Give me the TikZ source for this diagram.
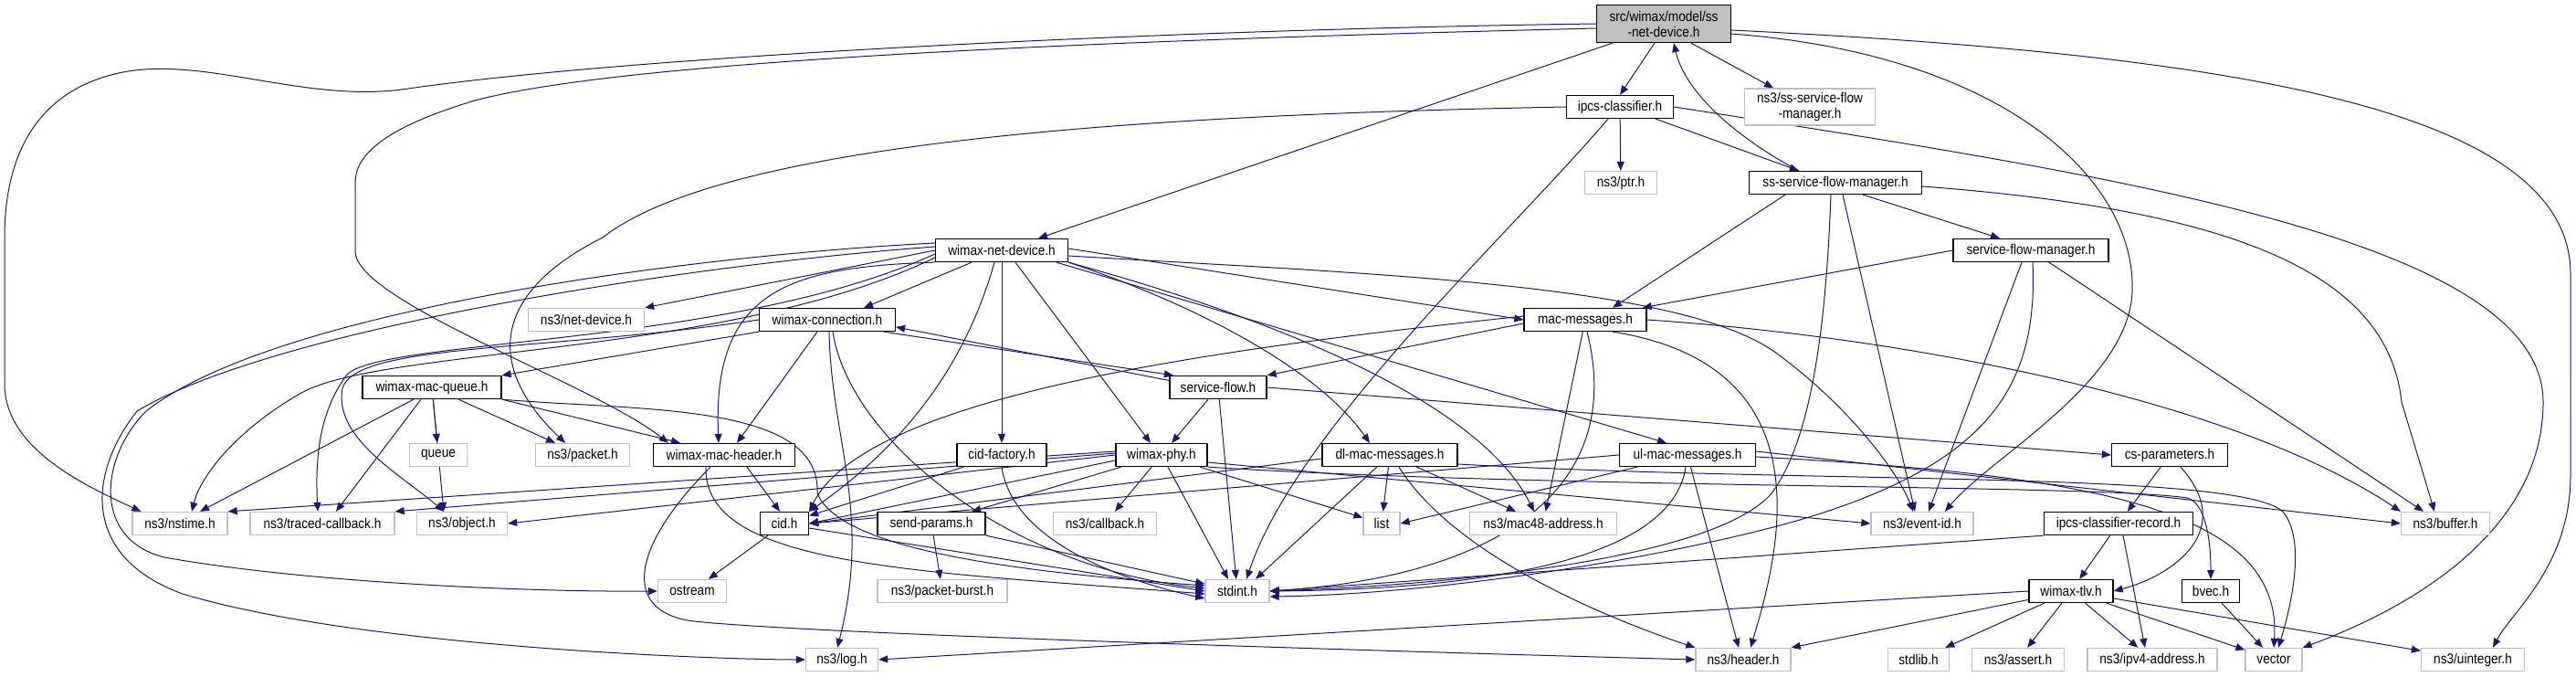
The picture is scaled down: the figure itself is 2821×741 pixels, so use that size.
\documentclass[tikz,border=0pt]{standalone}
\usepackage{fontspec}
\setmainfont{Liberation Sans}[FakeStretch=0.88]
\usepackage{tikz}
\usetikzlibrary{arrows.meta}
\definecolor{qqqqtt}{rgb}{0.098,0.098,0.439}
\definecolor{cccccc}{rgb}{0.75,0.75,0.75}
\tikzstyle{every node}=[font=\fontsize{15.5}{17}\selectfont]
\pgfdeclarelayer{edges}
\pgfsetlayers{edges,main}

\begin{document}
\begin{tikzpicture}[line cap=round,line join=round,>={Triangle[length=10pt,width=8pt]},x=1pt,y=-1pt,
  file/.style={draw=black,line width=1.3pt,fill=white,minimum height=25pt,inner sep=2pt},
  sys/.style={draw=cccccc,line width=1.3pt,fill=white,minimum height=25pt,inner sep=2pt},
  root/.style={draw=black,line width=1.3pt,fill=cccccc,minimum height=41pt,inner sep=2pt,align=center},
  inc/.style={->,line width=1pt,color=qqqqtt}]
\useasboundingbox (0,0) rectangle (2821,741);
% rows of files
\node[root,minimum width=147] (ssnet) at (1822,26) {src/wimax/model/ss\\-net-device.h};
\node[file,minimum width=117] (ipcs) at (1774,117) {ipcs-classifier.h};
\node[sys,minimum width=143,minimum height=40,align=center] (ns3ssflow) at (1982,117) {ns3/ss-service-flow\\-manager.h};
\node[sys,minimum width=79] (ptr) at (1775,200) {ns3/ptr.h};
\node[file,minimum width=189] (ssflowmgr) at (2010,200) {ss-service-flow-manager.h};
\node[file,minimum width=145] (wimaxnet) at (1097,274) {wimax-net-device.h};
\node[file,minimum width=170] (sfmgr) at (2224,274) {service-flow-manager.h};
\node[sys,minimum width=127] (netdevice) at (642,350) {ns3/net-device.h};
\node[file,minimum width=149] (wimaxconn) at (906,350) {wimax-connection.h};
\node[file,minimum width=134] (macmsg) at (1736,350) {mac-messages.h};
\node[file,minimum width=152] (macqueue) at (473,424) {wimax-mac-queue.h};
\node[file,minimum width=106] (serviceflow) at (1334,424) {service-flow.h};
\node[sys,minimum width=63] (queue) at (480,498) {queue};
\node[sys,minimum width=103] (packet) at (638,498) {ns3/packet.h};
\node[file,minimum width=155] (macheader) at (793,498) {wimax-mac-header.h};
\node[file,minimum width=98] (cidfactory) at (1097,498) {cid-factory.h};
\node[file,minimum width=100] (wimaxphy) at (1272,498) {wimax-phy.h};
\node[file,minimum width=148] (dlmac) at (1522,498) {dl-mac-messages.h};
\node[file,minimum width=149] (ulmac) at (1848,498) {ul-mac-messages.h};
\node[file,minimum width=127] (csparams) at (2376,498) {cs-parameters.h};
\node[sys,minimum width=104] (nstime) at (197,573) {ns3/nstime.h};
\node[sys,minimum width=158] (tracedcb) at (353,573) {ns3/traced-callback.h};
\node[sys,minimum width=99] (object) at (506,573) {ns3/object.h};
\node[file,minimum width=53] (cid) at (859,573) {cid.h};
\node[file,minimum width=118] (sendparams) at (1020,573) {send-params.h};
\node[sys,minimum width=113] (callback) at (1210,573) {ns3/callback.h};
\node[sys,minimum width=40] (list) at (1513,573) {list};
\node[sys,minimum width=161] (mac48) at (1690,573) {ns3/mac48-address.h};
\node[sys,minimum width=112] (eventid) at (2105,573) {ns3/event-id.h};
\node[file,minimum width=163] (ipcsrec) at (2320,573) {ipcs-classifier-record.h};
\node[sys,minimum width=97] (buffer) at (2678,573) {ns3/buffer.h};
\node[sys,minimum width=75] (ostream) at (758,647) {ostream};
\node[sys,minimum width=142] (packetburst) at (1032,647) {ns3/packet-burst.h};
\node[sys,minimum width=70] (stdint) at (1355,647) {stdint.h};
\node[file,minimum width=92] (wimaxtlv) at (2268,647) {wimax-tlv.h};
\node[file,minimum width=63] (bvec) at (2421,647) {bvec.h};
\node[sys,minimum width=79] (log) at (922,722) {ns3/log.h};
\node[sys,minimum width=104] (header) at (1909,722) {ns3/header.h};
\node[sys,minimum width=67] (stdlib) at (2101,722) {stdlib.h};
\node[sys,minimum width=101] (assert) at (2210,722) {ns3/assert.h};
\node[sys,minimum width=142] (ipv4) at (2357,722) {ns3/ipv4-address.h};
\node[sys,minimum width=62] (vector) at (2490,722) {vector};
\node[sys,minimum width=113] (uinteger) at (2708,722) {ns3/uinteger.h};
\begin{pgfonlayer}{edges}
% ss-net-device.h
\draw[inc] (ssnet.west) .. controls (1300,32) and (700,60) .. (440,98) .. controls (330,112) and (220,60) .. (130,80) .. controls (40,100) and (5,170) .. (5,260) -- (5,420) .. controls (5,490) and (90,530) .. ([xshift=10]nstime.north west);
\draw[inc] ([yshift=-5]ssnet.west) .. controls (1300,42) and (700,62) .. (520,110) .. controls (420,140) and (389,170) .. (389,200) -- (389,275) .. controls (389,330) and (650,420) .. ([xshift=17]macheader.north west);
\draw[inc] ([xshift=18]ssnet.south west) -- ([xshift=40]wimaxnet.north);
\draw[inc] ([xshift=-10]ssnet.south) -- (ipcs.north);
\draw[inc] ([xshift=30]ssnet.south) -- ([xshift=-40]ns3ssflow.north);
\draw[inc] ([yshift=-11]ssnet.east) .. controls (2200,60) and (2340,200) .. (2335,320) .. controls (2330,420) and (2180,500) .. ([xshift=25]eventid.north);
\draw[inc] ([yshift=-7]ssnet.east) .. controls (2450,60) and (2815,120) .. (2815,300) -- (2815,520) .. controls (2815,620) and (2750,670) .. ([xshift=22]uinteger.north);
% ipcs-classifier.h
\draw[inc] ([xshift=-20]ipcs.south east) -- ([xshift=55]ssflowmgr.north west);
\draw[inc] (ipcs) -- (ptr);
\draw[inc] (ipcs.west) .. controls (1300,125) and (800,150) .. (660,260) .. controls (540,320) and (530,400) .. ([xshift=-19]packet.north);
\draw[inc] ([xshift=-13]ipcs.south) .. controls (1650,260) and (1420,470) .. ([xshift=10]stdint.north);
\draw[inc] (ipcs.east) .. controls (2300,190) and (2785,260) .. (2785,440) .. controls (2785,600) and (2600,680) .. (vector.north east);
% ss-service-flow-manager.h
\draw[inc] ([xshift=55]ssflowmgr.north west) .. controls (1900,150) and (1845,100) .. ([xshift=11]ssnet.south);
\draw[inc] ([yshift=-4]ssflowmgr.east) .. controls (2450,230) and (2615,300) .. (2630,440) -- ([xshift=-12]buffer.north);
\draw[inc] ([xshift=-55]ssflowmgr.south) -- ([xshift=30]macmsg.north);
\draw[inc] ([xshift=30]ssflowmgr.south) -- ([xshift=-34]sfmgr.north);
\draw[inc] ([xshift=8]ssflowmgr.south) -- ([xshift=-8]eventid.north);
\draw[inc] ([xshift=-5]ssflowmgr.south) .. controls (2000,350) and (1985,480) .. (1940,540) .. controls (1880,610) and (1600,640) .. (stdint.east);
% service-flow-manager.h
\draw[inc] (sfmgr.west) -- ([xshift=-5]macmsg.north east);
\draw[inc] ([xshift=-10]sfmgr.south) -- ([xshift=7]eventid.north);
\draw[inc] ([xshift=2]sfmgr.south) .. controls (2232,420) and (2180,500) .. (2000,560) .. controls (1880,600) and (1600,650) .. ([yshift=-6]stdint.east);
\draw[inc] ([xshift=20]sfmgr.south) -- ([xshift=-24]buffer.north);
% wimax-net-device.h
\draw[inc] (wimaxnet.west) -- (netdevice.north east);
\draw[inc] ([xshift=-33]wimaxnet.south) -- ([xshift=40]wimaxconn.north);
\draw[inc] ([yshift=2]wimaxnet.east) -- (macmsg.west);
\draw[inc] (wimaxnet) -- (cidfactory);
\draw[inc] ([xshift=15]wimaxnet.south) -- ([xshift=-12]wimaxphy.north);
\draw[inc] ([xshift=-8]wimaxnet.south) .. controls (1060,390) and (1000,480) .. (cid.north east);
\draw[inc] (wimaxnet.south east) .. controls (1300,330) and (1440,400) .. ([xshift=-22]dlmac.north);
\draw[inc] ([xshift=60]wimaxnet.south) -- ([xshift=-23]ulmac.north);
\draw[inc] (wimaxnet.south east) .. controls (1400,350) and (1620,440) .. ([xshift=-10]mac48.north);
\draw[inc] ([yshift=-6]wimaxnet.east) .. controls (1500,300) and (1850,310) .. (1950,390) .. controls (2030,450) and (2080,520) .. ([xshift=-10]eventid.north);
\draw[inc] ([yshift=4]wimaxnet.west) .. controls (750,290) and (300,360) .. (150,450) .. controls (95,520) and (90,610) .. (200,650) .. controls (400,710) and (800,722) .. (log.west);
\draw[inc] ([yshift=8]wimaxnet.west) .. controls (750,280) and (300,340) .. (160,450) .. controls (110,500) and (100,590) .. (180,610) .. controls (350,640) and (600,648) .. (ostream.west);
\draw[inc] ([yshift=-8]wimaxnet.west) .. controls (800,390) and (420,380) .. (330,430) .. controls (260,470) and (220,520) .. ([xshift=13]nstime.north);
\draw[inc] ([yshift=-4]wimaxnet.west) .. controls (800,380) and (420,370) .. (380,410) .. controls (350,450) and (345,500) .. ([xshift=-5]tracedcb.north);
\draw[inc] (wimaxnet.south west) .. controls (860,292) and (780,320) .. ([xshift=-6]macheader.north);
% wimax-connection.h
\draw[inc] (wimaxconn.south west) -- (macqueue.north east);
\draw[inc] ([xshift=-11]wimaxconn.south) -- ([xshift=14]macheader.north);
\draw[inc] ([xshift=2]wimaxconn.south) .. controls (910,480) and (955,560) .. ([xshift=-5]log.north);
\draw[inc] ([xshift=6]wimaxconn.south) .. controls (930,480) and (1100,620) .. ([yshift=3]stdint.west);
\draw[inc] (wimaxconn.-12) -- (serviceflow.165);
\draw[inc] (serviceflow.172) -- (wimaxconn.-6);
\draw[inc] (wimaxconn.west) .. controls (600,385) and (390,375) .. (375,425) .. controls (365,480) and (440,520) .. ([xshift=-20]object.north);
% wimax-mac-queue.h
\draw[inc] (macqueue) -- (queue);
\draw[inc] (macqueue) -- ([xshift=-30]packet.north);
\draw[inc] (macqueue.south east) -- ([xshift=-48]macheader.north);
\draw[inc] ([xshift=-20]macqueue.south) -- ([xshift=22]nstime.north);
\draw[inc] ([xshift=-12]macqueue.south) -- ([xshift=15]tracedcb.north);
\draw[inc] (macqueue) -- ([xshift=-20]object.north);
\draw[inc] (macqueue.south east) .. controls (700,450) and (900,440) .. (895,540) .. controls (920,600) and (1100,625) .. ([yshift=6]stdint.west);
% wimax-mac-header.h
\draw[inc] ([xshift=25]macheader.south) -- ([xshift=-5]cid.north);
\draw[inc] ([xshift=-20]macheader.south) .. controls (770,620) and (1000,625) .. ([yshift=-3]stdint.west);
\draw[inc] ([xshift=-15]macheader.south) .. controls (690,600) and (680,670) .. (760,680) .. controls (900,695) and (1600,715) .. (header.west);
% cid-factory.h, cid.h, send-params.h
\draw[inc] (cidfactory) -- (cid);
\draw[inc] (cidfactory.south) .. controls (1110,600) and (1250,640) .. ([yshift=-8]stdint.west);
\draw[inc] (cid) -- (ostream);
\draw[inc] ([yshift=-5]cid.east) -- (stdint.west);
\draw[inc] (sendparams) -- (packetburst);
\draw[inc] (sendparams) -- (stdint);
% wimax-phy.h
\draw[inc] ([yshift=-6]wimaxphy.west) -- (cid.east);
\draw[inc] ([yshift=4]wimaxphy.west) -- (nstime.north east);
\draw[inc] ([yshift=2]wimaxphy.west) -- (tracedcb.north east);
\draw[inc] (wimaxphy.west) -- (object.east);
\draw[inc] (wimaxphy) -- (sendparams);
\draw[inc] (wimaxphy) -- (callback);
\draw[inc] (wimaxphy) -- ([xshift=-10]stdint.north);
\draw[inc] (wimaxphy) -- (list);
\draw[inc] ([yshift=-8]wimaxphy.east) -- (eventid.west);
\draw[inc] (wimaxphy.south east) .. controls (1700,535) and (2300,530) .. (2395,545) .. controls (2415,550) and (2421,590) .. (bvec.north);
% dl-mac-messages.h
\draw[inc] ([yshift=-4]dlmac.west) -- (cid.east);
\draw[inc] (dlmac) -- (list);
\draw[inc] (dlmac) -- ([xshift=-30]mac48.north);
\draw[inc] (dlmac) -- ([xshift=20]stdint.north);
\draw[inc] ([xshift=10]dlmac.south) .. controls (1600,620) and (1800,690) .. (header.north west);
\draw[inc] ([yshift=-10]dlmac.east) .. controls (2000,530) and (2450,515) .. (2500,560) .. controls (2525,590) and (2510,660) .. ([xshift=5]vector.north);
% ul-mac-messages.h
\draw[inc] (ulmac.west) -- (cid.east);
\draw[inc] (ulmac) -- (list.east);
\draw[inc] ([xshift=-2]ulmac.south) .. controls (1830,620) and (1600,645) .. (stdint.east);
\draw[inc] (ulmac) -- ([xshift=-5]header.north);
\draw[inc] ([yshift=4]ulmac.east) -- (buffer.west);
\draw[inc] ([yshift=-2]ulmac.east) .. controls (2300,520) and (2500,560) .. (vector.north);
% mac-messages.h
\draw[inc] ([yshift=-4]macmsg.west) -- (serviceflow.north east);
\draw[inc] ([yshift=4]macmsg.west) .. controls (1350,380) and (950,430) .. (cid.north east);
\draw[inc] (macmsg) -- (mac48);
\draw[inc] ([xshift=2]macmsg.south) .. controls (1780,530) and (1650,630) .. (stdint.east);
\draw[inc] ([xshift=30]macmsg.south) .. controls (2000,400) and (1950,600) .. ([xshift=8]header.north);
\draw[inc] (macmsg.east) .. controls (2100,370) and (2450,440) .. (buffer.north west);
% service-flow.h
\draw[inc] (serviceflow) -- (wimaxphy);
\draw[inc] (serviceflow) -- (stdint);
\draw[inc] (serviceflow.east) -- (csparams.west);
% cs-parameters.h, ipcs-classifier-record.h
\draw[inc] (csparams) -- (ipcsrec);
\draw[inc] ([xshift=12]csparams.south) .. controls (2450,580) and (2380,630) .. (wimaxtlv.east);
\draw[inc] (ipcsrec.south west) -- (stdint.east);
\draw[inc] (ipcsrec) -- (wimaxtlv);
\draw[inc] ([xshift=5]ipcsrec.south) -- ([xshift=-8]ipv4.north);
% wimax-tlv.h, bvec.h
\draw[inc] (wimaxtlv.west) -- (log.east);
\draw[inc] (wimaxtlv) -- (header.north east);
\draw[inc] (wimaxtlv) -- (stdlib);
\draw[inc] (wimaxtlv) -- (assert);
\draw[inc] (wimaxtlv) -- (ipv4);
\draw[inc] (wimaxtlv) -- (vector);
\draw[inc] (wimaxtlv) -- (uinteger);
\draw[inc] (bvec) -- (vector);
\end{pgfonlayer}
\end{tikzpicture}
\end{document}
